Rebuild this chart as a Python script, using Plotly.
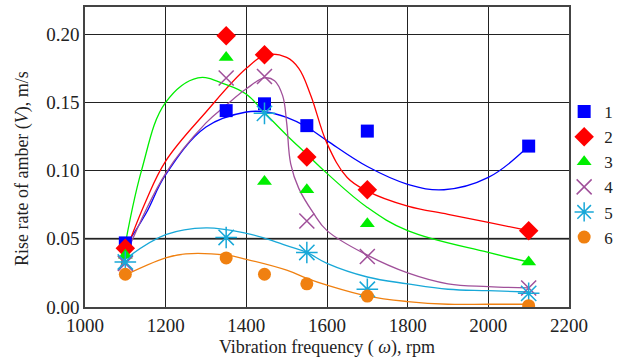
import plotly.graph_objects as go

# measured points
freq = [1100, 1350, 1445, 1550, 1700, 2100]
s1 = [0.047, 0.144, 0.149, 0.133, 0.129, 0.118]
s2 = [0.043, 0.199, 0.185, 0.110, 0.086, 0.056]
s3 = [0.038, 0.183, 0.092, 0.086, 0.061, 0.033]
s4 = [0.032, 0.168, 0.169, 0.063, 0.037, 0.014]
s5 = [0.033, 0.051, 0.142, 0.040, 0.013, 0.010]
s6 = [0.024, 0.036, 0.024, 0.017, 0.008, 0.001]

# fitted curves
c1_x = [1090, 1150, 1200, 1300, 1400, 1450, 1500, 1550, 1600, 1700, 1800, 1890, 2000, 2100]
c1_y = [0.040, 0.068, 0.097, 0.132, 0.143, 0.143, 0.139, 0.132, 0.122, 0.103, 0.090, 0.086, 0.095, 0.118]
c2_x = [1090, 1150, 1200, 1300, 1400, 1450, 1500, 1530, 1560, 1600, 1650, 1700, 1800, 1900, 2000, 2100]
c2_y = [0.032, 0.077, 0.107, 0.143, 0.175, 0.185, 0.183, 0.175, 0.155, 0.120, 0.095, 0.085, 0.074, 0.068, 0.062, 0.056]
c3_x = [1090, 1140, 1200, 1280, 1350, 1400, 1450, 1500, 1550, 1600, 1700, 1800, 2000, 2100]
c3_y = [0.030, 0.100, 0.150, 0.168, 0.163, 0.156, 0.141, 0.126, 0.112, 0.098, 0.073, 0.056, 0.040, 0.033]
c4_x = [1085, 1200, 1300, 1350, 1400, 1445, 1470, 1490, 1500, 1510, 1530, 1566, 1600, 1700, 1800, 1900, 2000, 2100]
c4_y = [0.027, 0.098, 0.135, 0.148, 0.160, 0.168, 0.166, 0.155, 0.135, 0.105, 0.087, 0.069, 0.056, 0.038, 0.025, 0.017, 0.015, 0.014]
c5_x = [1090, 1200, 1300, 1400, 1450, 1500, 1550, 1600, 1700, 1800, 1900, 2000, 2100]
c5_y = [0.033, 0.053, 0.058, 0.054, 0.050, 0.045, 0.040, 0.032, 0.022, 0.017, 0.013, 0.012, 0.011]
c6_x = [1090, 1200, 1250, 1350, 1400, 1500, 1550, 1600, 1700, 1800, 1900, 2000, 2100]
c6_y = [0.022, 0.036, 0.039, 0.038, 0.035, 0.027, 0.021, 0.016, 0.008, 0.004, 0.002, 0.002, 0.002]

labels = ["1", "2", "3", "4", "5", "6"]
colors = ["#0000ff", "#ff0000", "#00ee00", "#a0509a", "#18a8d8", "#f08010"]
symbols = ["square", "diamond", "triangle-up", "x-thin-open", "asterisk-open", "circle"]
sizes = [13, 15, 13, 15, 18, 13]

fig = go.Figure()
curves = [(c1_x, c1_y), (c2_x, c2_y), (c3_x, c3_y), (c4_x, c4_y), (c5_x, c5_y), (c6_x, c6_y)]
for (cx, cy), col in zip(curves, colors):
    fig.add_trace(go.Scatter(x=cx, y=cy, mode="lines", line=dict(color=col, width=1.3, shape="spline", smoothing=1.1),
                             showlegend=False, hoverinfo="skip"))
for ys, lab, col, sym, sz in zip([s1, s2, s3, s4, s5, s6], labels, colors, symbols, sizes):
    line_w = 1.5 if "open" in sym else 0
    fig.add_trace(go.Scatter(x=freq, y=ys, mode="markers", name=lab,
                             marker=dict(symbol=sym, size=sz, color=col, line=dict(color=col, width=line_w))))

fig.add_shape(type="line", xref="paper", yref="y", x0=0, x1=1, y0=0.05, y1=0.05,
              line=dict(color="#777777", width=2.2), layer="below")

fam = "'Liberation Serif', 'Times New Roman', serif"
font = dict(family=fam, size=19, color="#222")
tfont = dict(family=fam, size=18, color="#222")
fig.add_annotation(text="Rise rate of amber (<i>V</i>), m/s", textangle=-90, xref="paper", yref="paper",
                   x=-0.13, y=0.46, xanchor="center", yanchor="middle", showarrow=False, font=tfont)
fig.update_layout(
    width=619, height=363, margin=dict(l=85, r=50, t=7, b=56, autoexpand=False),
    paper_bgcolor="white", plot_bgcolor="white", font=font,
    legend=dict(x=0.99, y=0.71, xanchor="left", yanchor="top", font=dict(family=fam, size=17, color="#222"),
                tracegroupgap=0, itemwidth=30, bgcolor="rgba(0,0,0,0)"),
    xaxis=dict(range=[1000, 2200], dtick=200, showgrid=True, gridcolor="#222", gridwidth=1,
               showline=True, linecolor="#444", linewidth=1.5, mirror=True, zeroline=False,
               ticks="", tickfont=font,
               title=dict(text="Vibration frequency ( <i>ω</i>), rpm", font=tfont, standoff=6)),
    yaxis=dict(range=[0, 0.22], tickvals=[0, 0.05, 0.10, 0.15, 0.20], tickformat=".2f", showgrid=True,
               gridcolor="#222", gridwidth=1, showline=True, linecolor="#444", linewidth=1.5, mirror=True,
               zeroline=False, ticks="", tickfont=font),
)
fig.write_html("out.html")
